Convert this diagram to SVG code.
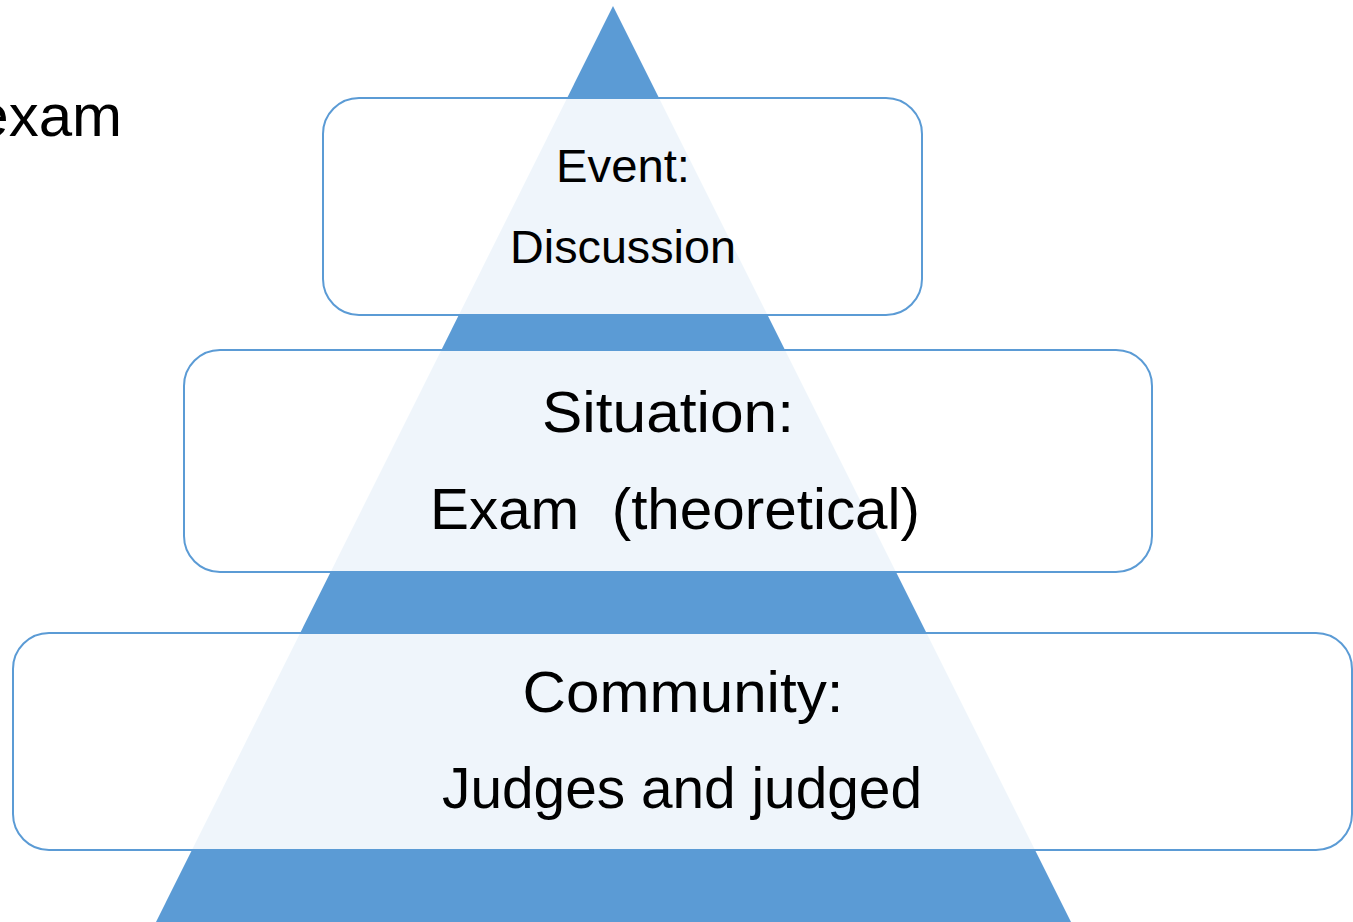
<svg xmlns="http://www.w3.org/2000/svg" width="1353" height="922" viewBox="0 0 1353 922">
  <style>
    .tier { fill: #ffffff; fill-opacity: 0.9; stroke: #5b9bd5; stroke-width: 2; }
    .label { font-family: "Liberation Sans", Arial, sans-serif; fill: #000000; text-anchor: middle; }
  </style>
  <rect x="0" y="0" width="1353" height="922" fill="#ffffff"/>

  <!-- heading fragment at the top left, running off the left edge -->
  <text x="122" y="136" font-family="'Liberation Sans', Arial, sans-serif" font-size="60" text-anchor="end" fill="#000000">exam</text>

  <!-- pyramid behind the tiers -->
  <g id="pyramid">
    <polygon points="613,6 1075,930 152,930" fill="#5b9bd5"/>
  </g>

  <g id="tier-event">
    <rect class="tier" x="323" y="98" width="599" height="217" rx="36" ry="36"/>
    <text class="label" x="623" y="182" font-size="46" textLength="134" lengthAdjust="spacingAndGlyphs">Event:</text>
    <text class="label" x="623" y="263" font-size="46" textLength="226" lengthAdjust="spacingAndGlyphs">Discussion</text>
  </g>

  <g id="tier-situation">
    <rect class="tier" x="184" y="350" width="968" height="222" rx="36" ry="36"/>
    <text class="label" x="668" y="432" font-size="58" textLength="252" lengthAdjust="spacingAndGlyphs">Situation:</text>
    <text class="label" x="675" y="529" font-size="58" xml:space="preserve" textLength="490" lengthAdjust="spacingAndGlyphs">Exam  (theoretical)</text>
  </g>

  <g id="tier-community">
    <rect class="tier" x="13" y="633" width="1339" height="217" rx="36" ry="36"/>
    <text class="label" x="683" y="712" font-size="57" textLength="321" lengthAdjust="spacingAndGlyphs">Community:</text>
    <text class="label" x="682" y="808" font-size="57" textLength="480" lengthAdjust="spacingAndGlyphs">Judges and judged</text>
  </g>

  <g id="connectors"></g>
</svg>
